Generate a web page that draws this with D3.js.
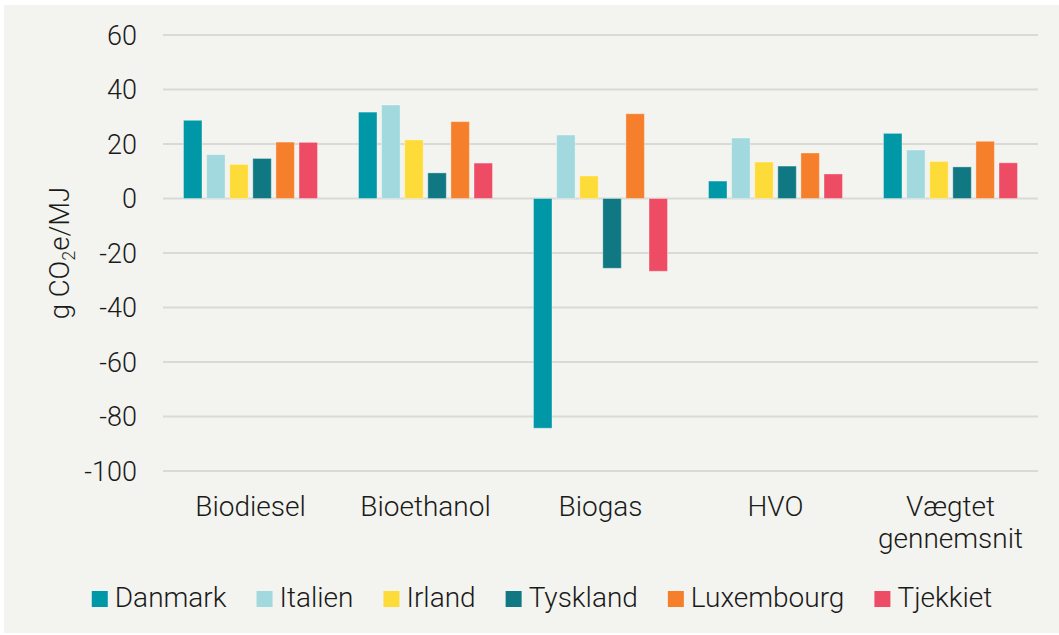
<!DOCTYPE html>
<html>
<head>
<meta charset="utf-8">
<script src="https://cdn.jsdelivr.net/npm/d3@7"></script>
<style>
  html, body { margin: 0; padding: 0; background: #ffffff; }
  svg { display: block; font-family: Roboto, "Noto Sans", sans-serif; font-weight: 300; }
</style>
</head>
<body>
<svg id="chart" width="1059" height="635"></svg>
<script>
// categories and series
const categories = ["Biodiesel", "Bioethanol", "Biogas", "HVO", "Vægtet gennemsnit"];
const countries = ["Danmark", "Italien", "Irland", "Tyskland", "Luxembourg", "Tjekkiet"];
const colors = ["#0098a6", "#a2d9de", "#fddc3a", "#107882", "#f57f2a", "#ee4c65"];

// g CO2e/MJ, one array per country, in category order
const danmark    = [28.7, 31.7, -84.3, 6.4, 23.9];
const italien    = [16.1, 34.3, 23.3, 22.2, 17.8];
const irland     = [12.5, 21.5, 8.3, 13.4, 13.6];
const tyskland   = [14.7, 9.4, -25.6, 11.9, 11.6];
const luxembourg = [20.7, 28.2, 31.1, 16.7, 21.0];
const tjekkiet   = [20.6, 13.0, -26.7, 9.0, 13.1];
const seriesValues = [danmark, italien, irland, tyskland, luxembourg, tjekkiet];

const yTicks = [60, 40, 20, 0, -20, -40, -60, -80, -100];

const svg = d3.select("#chart");

// panel background
svg.append("rect")
  .attr("x", 4).attr("y", 5)
  .attr("width", 1055).attr("height", 628)
  .attr("fill", "#f3f3ef");

const plotLeft = 163, plotRight = 1038;
const y = d3.scaleLinear().domain([-100, 60]).range([471, 35]);
const x0 = d3.scaleBand().domain(categories).range([plotLeft, plotRight]);
const x1 = d3.scaleBand().domain(countries)
  .range([20.5, x0.bandwidth() - 20.5])
  .paddingInner(0.2).paddingOuter(0);

// gridlines
svg.append("g").selectAll("line")
  .data(yTicks)
  .enter().append("line")
  .attr("x1", plotLeft).attr("x2", plotRight)
  .attr("y1", d => y(d)).attr("y2", d => y(d))
  .attr("stroke", "#d9d9d7")
  .attr("stroke-width", 2);

// y tick labels
svg.append("g").selectAll("text")
  .data(yTicks)
  .enter().append("text")
  .attr("x", 137)
  .attr("y", d => y(d))
  .attr("dy", "0.36em")
  .attr("text-anchor", "end")
  .attr("font-size", 27)
  .attr("fill", "#1a1a1a")
  .text(d => d);

// y axis title
const yTitle = svg.append("text")
  .attr("transform", "translate(69," + y(-20) + ") rotate(-90)")
  .attr("text-anchor", "middle")
  .attr("font-size", 27.5)
  .attr("fill", "#1a1a1a");
yTitle.append("tspan").text("g CO");
yTitle.append("tspan").attr("font-size", 18).attr("dy", 6).text("2");
yTitle.append("tspan").attr("dy", -6).text("e/MJ");

// bars
const groups = svg.append("g").selectAll("g")
  .data(categories)
  .enter().append("g")
  .attr("transform", d => "translate(" + x0(d) + ",0)");

groups.selectAll("rect")
  .data((c, ci) => countries.map((s, si) => ({ s: s, si: si, v: seriesValues[si][ci] })))
  .enter().append("rect")
  .attr("x", d => x1(d.s))
  .attr("width", x1.bandwidth())
  .attr("y", d => y(Math.max(0, d.v)))
  .attr("height", d => Math.abs(y(d.v) - y(0)))
  .attr("fill", d => colors[d.si])
  .attr("stroke", "rgba(255,255,255,0.35)")
  .attr("stroke-width", 1);

// category labels
const catLabels = svg.append("g").selectAll("text")
  .data(categories)
  .enter().append("text")
  .attr("x", d => x0(d) + x0.bandwidth() / 2)
  .attr("y", 516)
  .attr("text-anchor", "middle")
  .attr("font-size", 28)
  .attr("fill", "#1a1a1a");

catLabels.each(function(d) {
  const words = d === "Vægtet gennemsnit" ? ["Vægtet", "gennemsnit"] : [d];
  const t = d3.select(this);
  words.forEach((w, i) => {
    t.append("tspan")
      .attr("x", x0(d) + x0.bandwidth() / 2)
      .attr("dy", i === 0 ? 0 : 32)
      .text(w);
  });
});

// legend
const legend = svg.append("g");
const legendGap = 30;
let lx = 0;
countries.forEach((c, i) => {
  const item = legend.append("g").attr("transform", "translate(" + lx + ",0)");
  item.append("rect")
    .attr("x", 0).attr("y", 591)
    .attr("width", 16).attr("height", 16)
    .attr("fill", colors[i]);
  const t = item.append("text")
    .attr("x", 23).attr("y", 607)
    .attr("font-size", 28)
    .attr("fill", "#1a1a1a")
    .text(c);
  lx += 23 + t.node().getComputedTextLength() + legendGap;
});
const legendWidth = lx - legendGap;
legend.attr("transform", "translate(" + (542 - legendWidth / 2) + ",0)");
</script>
</body>
</html>
